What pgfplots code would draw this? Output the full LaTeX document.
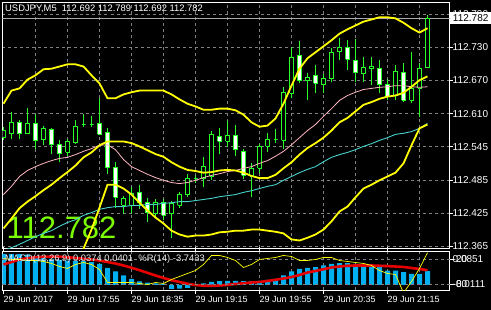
\documentclass[border=0pt]{standalone}
\usepackage{pgfplots}
\usepackage{pgfplotstable}
\pgfplotsset{compat=1.18}
\usepackage{fontspec}
\setmainfont{Liberation Sans}
\definecolor{candlegreen}{RGB}{40,255,40}
\definecolor{byellow}{RGB}{255,255,0}
\definecolor{mpink}{RGB}{255,182,193}
\definecolor{mcyan}{RGB}{72,209,204}
\definecolor{mblue}{RGB}{0,176,240}
\definecolor{sred}{RGB}{230,0,0}
\definecolor{biggreen}{RGB}{124,252,0}
\definecolor{gridc}{RGB}{128,128,128}
\definecolor{pline}{RGB}{170,170,170}

% candle wicks: low and high of each bar
\pgfplotstableread[row sep=\\]{
x y\\
0 112.559\\ 0 112.583\\ 0 nan\\
1 112.561\\ 1 112.610\\ 1 nan\\
2 112.561\\ 2 112.597\\ 2 nan\\
3 112.570\\ 3 112.619\\ 3 nan\\
4 112.544\\ 4 112.608\\ 4 nan\\
5 112.550\\ 5 112.586\\ 5 nan\\
6 112.535\\ 6 112.581\\ 6 nan\\
7 112.519\\ 7 112.559\\ 7 nan\\
8 112.531\\ 8 112.562\\ 8 nan\\
9 112.553\\ 9 112.597\\ 9 nan\\
10 112.583\\ 10 112.608\\ 10 nan\\
11 112.583\\ 11 112.604\\ 11 nan\\
12 112.568\\ 12 112.637\\ 12 nan\\
13 112.498\\ 13 112.581\\ 13 nan\\
14 112.436\\ 14 112.519\\ 14 nan\\
15 112.425\\ 15 112.458\\ 15 nan\\
16 112.424\\ 16 112.473\\ 16 nan\\
17 112.434\\ 17 112.478\\ 17 nan\\
18 112.409\\ 18 112.453\\ 18 nan\\
19 112.418\\ 19 112.451\\ 19 nan\\
20 112.413\\ 20 112.451\\ 20 nan\\
21 112.380\\ 21 112.449\\ 21 nan\\
22 112.436\\ 22 112.464\\ 22 nan\\
23 112.455\\ 23 112.497\\ 23 nan\\
24 112.482\\ 24 112.495\\ 24 nan\\
25 112.473\\ 25 112.528\\ 25 nan\\
26 112.487\\ 26 112.577\\ 26 nan\\
27 112.535\\ 27 112.581\\ 27 nan\\
28 112.546\\ 28 112.594\\ 28 nan\\
29 112.531\\ 29 112.588\\ 29 nan\\
30 112.489\\ 30 112.544\\ 30 nan\\
31 112.455\\ 31 112.517\\ 31 nan\\
32 112.500\\ 32 112.553\\ 32 nan\\
33 112.537\\ 33 112.573\\ 33 nan\\
34 112.555\\ 34 112.579\\ 34 nan\\
35 112.544\\ 35 112.656\\ 35 nan\\
36 112.636\\ 36 112.729\\ 36 nan\\
37 112.663\\ 37 112.740\\ 37 nan\\
38 112.632\\ 38 112.683\\ 38 nan\\
39 112.645\\ 39 112.696\\ 39 nan\\
40 112.645\\ 40 112.681\\ 40 nan\\
41 112.665\\ 41 112.727\\ 41 nan\\
42 112.705\\ 42 112.747\\ 42 nan\\
43 112.687\\ 43 112.742\\ 43 nan\\
44 112.665\\ 44 112.745\\ 44 nan\\
45 112.665\\ 45 112.711\\ 45 nan\\
46 112.661\\ 46 112.711\\ 46 nan\\
47 112.645\\ 47 112.705\\ 47 nan\\
48 112.632\\ 48 112.672\\ 48 nan\\
49 112.632\\ 49 112.696\\ 49 nan\\
50 112.630\\ 50 112.701\\ 50 nan\\
51 112.628\\ 51 112.720\\ 51 nan\\
52 112.601\\ 52 112.701\\ 52 nan\\
53 112.692\\ 53 112.789\\ 53 nan\\
}\wicks

% bull candle bodies (open below close), 5 px wide
\pgfplotstableread[row sep=\\]{
x y\\
-0.25 112.564\\ 0.25 112.564\\ 0.25 112.577\\ -0.25 112.577\\ -0.25 112.564\\ 0 nan\\
0.75 112.572\\ 1.25 112.572\\ 1.25 112.592\\ 0.75 112.592\\ 0.75 112.572\\ 1 nan\\
2.75 112.572\\ 3.25 112.572\\ 3.25 112.590\\ 2.75 112.590\\ 2.75 112.572\\ 3 nan\\
4.75 112.561\\ 5.25 112.561\\ 5.25 112.581\\ 4.75 112.581\\ 4.75 112.561\\ 5 nan\\
7.75 112.537\\ 8.25 112.537\\ 8.25 112.557\\ 7.75 112.557\\ 7.75 112.537\\ 8 nan\\
8.75 112.555\\ 9.25 112.555\\ 9.25 112.584\\ 8.75 112.584\\ 8.75 112.555\\ 9 nan\\
9.75 112.588\\ 10.25 112.588\\ 10.25 112.588\\ 9.75 112.588\\ 9.75 112.588\\ 10 nan\\
10.75 112.588\\ 11.25 112.588\\ 11.25 112.588\\ 10.75 112.588\\ 10.75 112.588\\ 11 nan\\
14.75 112.440\\ 15.25 112.440\\ 15.25 112.453\\ 14.75 112.453\\ 14.75 112.440\\ 15 nan\\
15.75 112.440\\ 16.25 112.440\\ 16.25 112.462\\ 15.75 112.462\\ 15.75 112.440\\ 16 nan\\
18.75 112.425\\ 19.25 112.425\\ 19.25 112.445\\ 18.75 112.445\\ 18.75 112.425\\ 19 nan\\
20.75 112.425\\ 21.25 112.425\\ 21.25 112.444\\ 20.75 112.444\\ 20.75 112.425\\ 21 nan\\
21.75 112.440\\ 22.25 112.440\\ 22.25 112.460\\ 21.75 112.460\\ 21.75 112.440\\ 22 nan\\
22.75 112.460\\ 23.25 112.460\\ 23.25 112.489\\ 22.75 112.489\\ 22.75 112.460\\ 23 nan\\
23.75 112.489\\ 24.25 112.489\\ 24.25 112.489\\ 23.75 112.489\\ 23.75 112.489\\ 24 nan\\
24.75 112.489\\ 25.25 112.489\\ 25.25 112.511\\ 24.75 112.511\\ 24.75 112.489\\ 25 nan\\
25.75 112.493\\ 26.25 112.493\\ 26.25 112.570\\ 25.75 112.570\\ 25.75 112.493\\ 26 nan\\
27.75 112.557\\ 28.25 112.557\\ 28.25 112.568\\ 27.75 112.568\\ 27.75 112.557\\ 28 nan\\
30.75 112.493\\ 31.25 112.493\\ 31.25 112.508\\ 30.75 112.508\\ 30.75 112.493\\ 31 nan\\
31.75 112.508\\ 32.25 112.508\\ 32.25 112.548\\ 31.75 112.548\\ 31.75 112.508\\ 32 nan\\
32.75 112.548\\ 33.25 112.548\\ 33.25 112.561\\ 32.75 112.561\\ 32.75 112.548\\ 33 nan\\
33.75 112.561\\ 34.25 112.561\\ 34.25 112.561\\ 33.75 112.561\\ 33.75 112.561\\ 34 nan\\
34.75 112.559\\ 35.25 112.559\\ 35.25 112.647\\ 34.75 112.647\\ 34.75 112.559\\ 35 nan\\
35.75 112.645\\ 36.25 112.645\\ 36.25 112.711\\ 35.75 112.711\\ 35.75 112.645\\ 36 nan\\
37.75 112.668\\ 38.25 112.668\\ 38.25 112.674\\ 37.75 112.674\\ 37.75 112.668\\ 38 nan\\
39.75 112.661\\ 40.25 112.661\\ 40.25 112.672\\ 39.75 112.672\\ 39.75 112.661\\ 40 nan\\
40.75 112.672\\ 41.25 112.672\\ 41.25 112.720\\ 40.75 112.720\\ 40.75 112.672\\ 41 nan\\
41.75 112.721\\ 42.25 112.721\\ 42.25 112.729\\ 41.75 112.729\\ 41.75 112.721\\ 42 nan\\
44.75 112.681\\ 45.25 112.681\\ 45.25 112.692\\ 44.75 112.692\\ 44.75 112.681\\ 45 nan\\
45.75 112.690\\ 46.25 112.690\\ 46.25 112.694\\ 45.75 112.694\\ 45.75 112.690\\ 46 nan\\
48.75 112.641\\ 49.25 112.641\\ 49.25 112.685\\ 48.75 112.685\\ 48.75 112.641\\ 49 nan\\
50.75 112.632\\ 51.25 112.632\\ 51.25 112.654\\ 50.75 112.654\\ 50.75 112.632\\ 51 nan\\
51.75 112.654\\ 52.25 112.654\\ 52.25 112.690\\ 51.75 112.690\\ 51.75 112.654\\ 52 nan\\
52.75 112.692\\ 53.25 112.692\\ 53.25 112.782\\ 52.75 112.782\\ 52.75 112.692\\ 53 nan\\
}\bullbodies

% bear candle bodies (close below open)
\pgfplotstableread[row sep=\\]{
x y\\
1.75 112.572\\ 2.25 112.572\\ 2.25 112.592\\ 1.75 112.592\\ 1.75 112.572\\ 2 nan\\
3.75 112.559\\ 4.25 112.559\\ 4.25 112.590\\ 3.75 112.590\\ 3.75 112.559\\ 4 nan\\
5.75 112.551\\ 6.25 112.551\\ 6.25 112.579\\ 5.75 112.579\\ 5.75 112.551\\ 6 nan\\
6.75 112.535\\ 7.25 112.535\\ 7.25 112.551\\ 6.75 112.551\\ 6.75 112.535\\ 7 nan\\
11.75 112.570\\ 12.25 112.570\\ 12.25 112.590\\ 11.75 112.590\\ 11.75 112.570\\ 12 nan\\
12.75 112.509\\ 13.25 112.509\\ 13.25 112.573\\ 12.75 112.573\\ 12.75 112.509\\ 13 nan\\
13.75 112.455\\ 14.25 112.455\\ 14.25 112.509\\ 13.75 112.509\\ 13.75 112.455\\ 14 nan\\
16.75 112.445\\ 17.25 112.445\\ 17.25 112.464\\ 16.75 112.464\\ 16.75 112.445\\ 17 nan\\
17.75 112.427\\ 18.25 112.427\\ 18.25 112.445\\ 17.75 112.445\\ 17.75 112.427\\ 18 nan\\
19.75 112.422\\ 20.25 112.422\\ 20.25 112.445\\ 19.75 112.445\\ 19.75 112.422\\ 20 nan\\
26.75 112.557\\ 27.25 112.557\\ 27.25 112.566\\ 26.75 112.566\\ 26.75 112.557\\ 27 nan\\
28.75 112.542\\ 29.25 112.542\\ 29.25 112.568\\ 28.75 112.568\\ 28.75 112.542\\ 29 nan\\
29.75 112.495\\ 30.25 112.495\\ 30.25 112.539\\ 29.75 112.539\\ 29.75 112.495\\ 30 nan\\
36.75 112.668\\ 37.25 112.668\\ 37.25 112.714\\ 36.75 112.714\\ 36.75 112.668\\ 37 nan\\
38.75 112.663\\ 39.25 112.663\\ 39.25 112.678\\ 38.75 112.678\\ 38.75 112.663\\ 39 nan\\
42.75 112.707\\ 43.25 112.707\\ 43.25 112.729\\ 42.75 112.729\\ 42.75 112.707\\ 43 nan\\
43.75 112.683\\ 44.25 112.683\\ 44.25 112.705\\ 43.75 112.705\\ 43.75 112.683\\ 44 nan\\
46.75 112.661\\ 47.25 112.661\\ 47.25 112.690\\ 46.75 112.690\\ 46.75 112.661\\ 47 nan\\
47.75 112.639\\ 48.25 112.639\\ 48.25 112.661\\ 47.75 112.661\\ 47.75 112.639\\ 48 nan\\
49.75 112.632\\ 50.25 112.632\\ 50.25 112.683\\ 49.75 112.683\\ 49.75 112.632\\ 50 nan\\
}\bearbodies

\pgfplotstableread{
k u m l p cy
0 112.626 112.398 112.169 112.460 112.358
1 112.650 112.416 112.182 112.475 112.363
2 112.654 112.435 112.215 112.493 112.369
3 112.670 112.447 112.224 112.504 112.376
4 112.678 112.457 112.235 112.511 112.383
5 112.689 112.468 112.246 112.517 112.389
6 112.690 112.478 112.266 112.522 112.394
7 112.694 112.490 112.285 112.526 112.402
8 112.698 112.501 112.303 112.528 112.409
9 112.698 112.513 112.328 112.533 112.414
10 112.694 112.528 112.361 112.539 112.422
11 112.678 112.537 112.396 112.544 112.427
12 112.663 112.550 112.436 112.550 112.433
13 112.636 112.557 112.478 112.551 112.436
14 112.636 112.557 112.478 112.542 112.438
15 112.643 112.557 112.471 112.524 112.438
16 112.647 112.554 112.460 112.511 112.440
17 112.650 112.548 112.445 112.504 112.440
18 112.650 112.541 112.431 112.497 112.442
19 112.650 112.534 112.418 112.491 112.442
20 112.650 112.529 112.407 112.486 112.444
21 112.643 112.519 112.394 112.482 112.445
22 112.634 112.511 112.387 112.480 112.447
23 112.626 112.505 112.383 112.482 112.447
24 112.621 112.503 112.385 112.486 112.449
25 112.615 112.500 112.385 112.491 112.451
26 112.615 112.501 112.387 112.495 112.453
27 112.617 112.504 112.391 112.498 112.456
28 112.617 112.505 112.392 112.502 112.458
29 112.614 112.504 112.394 112.504 112.460
30 112.606 112.500 112.394 112.508 112.464
31 112.592 112.494 112.396 112.511 112.467
32 112.584 112.490 112.396 112.517 112.471
33 112.586 112.490 112.394 112.522 112.475
34 112.599 112.496 112.392 112.530 112.478
35 112.626 112.508 112.389 112.539 112.486
36 112.659 112.519 112.378 112.551 112.493
37 112.690 112.533 112.376 112.564 112.500
38 112.709 112.545 112.381 112.577 112.506
39 112.720 112.554 112.387 112.588 112.511
40 112.731 112.564 112.396 112.603 112.520
41 112.742 112.577 112.411 112.617 112.528
42 112.754 112.592 112.429 112.632 112.533
43 112.762 112.600 112.438 112.641 112.537
44 112.769 112.612 112.455 112.647 112.542
45 112.776 112.624 112.471 112.652 112.548
46 112.780 112.629 112.478 112.654 112.553
47 112.784 112.635 112.486 112.656 112.559
48 112.784 112.639 112.493 112.657 112.564
49 112.782 112.641 112.500 112.659 112.570
50 112.774 112.646 112.517 112.659 112.572
51 112.764 112.657 112.550 112.657 112.575
52 112.756 112.669 112.581 112.656 112.581
53 112.764 112.676 112.588 112.657 112.590
}\bands

\pgfplotstableread{
k macd sig wr
0 0.0851 0.0558 -17.5
1 0.0846 0.0627 -19.9
2 0.0842 0.0696 -19.9
3 0.0830 0.0732 -22.3
4 0.0759 0.0759 -22.3
5 0.0745 0.0770 -24.7
6 0.0715 0.0778 -29.5
7 0.0682 0.0773 -36.7
8 0.0668 0.0759 -41.5
9 0.0649 0.0737 -31.9
10 0.0649 0.0715 -27.1
11 0.0622 0.0696 -31.9
12 0.0572 0.0668 -43.9
13 0.0462 0.0627 -75.1
14 0.0366 0.0586 -75.1
15 0.0256 0.0531 -75.1
16 0.0160 0.0470 -75.1
17 0.0091 0.0402 -77.5
18 0.0063 0.0330 -79.9
19 0.0036 0.0256 -75.1
20 0.0022 0.0187 -77.5
21 -0.0110 0.0127 -67.9
22 -0.0108 0.0077 -60.7
23 -0.0088 0.0030 -53.5
24 -0.0033 -0.0006 -46.3
25 0.0036 -0.0025 -31.9
26 0.0077 -0.0028 -10.3
27 0.0099 -0.0019 -10.3
28 0.0105 0.0000 -15.1
29 0.0110 0.0022 -22.3
30 0.0099 0.0041 -39.1
31 0.0099 0.0063 -31.9
32 0.0110 0.0077 -19.9
33 0.0132 0.0105 -17.5
34 0.0165 0.0138 -15.1
35 0.0256 0.0173 -10.3
36 0.0366 0.0215 -12.7
37 0.0440 0.0270 -22.3
38 0.0468 0.0338 -22.3
39 0.0484 0.0380 -19.9
40 0.0531 0.0429 -15.1
41 0.0578 0.0476 -15.1
42 0.0594 0.0503 -22.3
43 0.0594 0.0523 -24.7
44 0.0578 0.0531 -27.1
45 0.0531 0.0531 -29.5
46 0.0531 0.0531 -34.3
47 0.0484 0.0523 -46.3
48 0.0393 0.0514 -53.5
49 0.0393 0.0503 -55.9
50 0.0347 0.0490 -100
51 0.0303 0.0462 -72.7
52 0.0303 0.0435 -41.5
53 0.0374 0.0401 -3.7
}\sub

\begin{document}
\begin{tikzpicture}
\fill[black] (0pt,0pt) rectangle (491pt,310pt);

% ---------------- main price window ----------------
\begin{axis}[
  at={(2.5pt,61.5pt)}, anchor=south west, scale only axis,
  width=447pt, height=246pt,
  xmin=-0.125, xmax=55.75, ymin=112.3614, ymax=112.8110,
  axis line style={white, line width=0.9pt},
  xtick={4,8,...,52}, xticklabels={}, xtick style={draw=none},
  ytick={112.790,112.7293,112.6686,112.6079,112.5471,112.4864,112.4257,112.365},
  yticklabels={112.790,112.730,112.670,112.610,112.545,112.485,112.425,112.365},
  ytick pos=right, yticklabel pos=right,
  ytick style={white, line width=0.9pt},
  tick align=outside, major tick length=3pt,
  yticklabel style={text=white, anchor=west, inner sep=0pt, xshift=0pt,
    font=\fontsize{10}{10}\selectfont},
  xmajorgrids, ymajorgrids,
  grid style={gridc, dash pattern=on 3pt off 3pt, line width=0.9pt},
  unbounded coords=jump,
  /pgf/number format/assume math mode=true,
]
% current price line
\addplot[pline, line width=0.8pt, forget plot] coordinates {(-0.125,112.782) (55.75,112.782)};

% candles
\addplot[candlegreen, line width=1.1pt, forget plot] table[x=x, y=y] {\wicks};
\addplot[draw=candlegreen, fill=black, line width=1.1pt, forget plot] table[x=x, y=y] {\bullbodies};
\addplot[draw=candlegreen, fill=white, line width=1.1pt, forget plot] table[x=x, y=y] {\bearbodies};

\node[anchor=base west, inner sep=0pt, text=biggreen,
      font=\fontsize{31}{31}\selectfont] at (rel axis cs:0.009,0.0407) {112.782};

% indicator lines
\addplot[mpink, line width=0.8pt] table[x=k, y=p] {\bands};
\addplot[mcyan, line width=0.9pt] table[x=k, y=cy] {\bands};
\addplot[byellow, line width=1.8pt] table[x=k, y=u] {\bands};
\addplot[byellow, line width=1.8pt] table[x=k, y=m] {\bands};
\addplot[byellow, line width=1.8pt] table[x=k, y=l] {\bands};
\end{axis}

% ---------------- sub window: MACD ----------------
\begin{axis}[
  at={(2.5pt,19.5pt)}, anchor=south west, scale only axis,
  width=447pt, height=39pt,
  xmin=-0.125, xmax=55.75, ymin=-0.015675, ymax=0.091575,
  axis line style={white, line width=0.9pt},
  ytick=\empty,
  xtick={4,8,...,52}, xticklabels={}, xtick style={draw=none},
  xmajorgrids,
  grid style={gridc, dash pattern=on 3pt off 3pt, line width=0.9pt},
  extra x ticks={0,8,...,48},
  extra x tick labels={29 Jun 2017,29 Jun 17:55,29 Jun 18:35,29 Jun 19:15,29 Jun 19:55,29 Jun 20:35,29 Jun 21:15},
  extra x tick style={grid=none, tick align=outside, major tick length=4pt,
    xtick style={draw=white, line width=0.9pt}},
  xticklabel style={text=white, anchor=north west, inner sep=0pt, yshift=-2pt,
    font=\fontsize{9}{9}\selectfont},
  /pgf/number format/assume math mode=true,
]
\addplot[ybar, bar width=5pt, fill=mblue, draw=none] table[x=k, y=macd] {\sub};
\addplot[sred, line width=2.6pt] table[x=k, y=sig] {\sub};
\end{axis}

% ---------------- sub window: %R ----------------
\begin{axis}[
  at={(2.5pt,19.5pt)}, anchor=south west, scale only axis,
  width=447pt, height=39pt,
  xmin=-0.125, xmax=55.75, ymin=-94.32, ymax=-0.72,
  axis line style={draw=none},
  xtick=\empty,
  ytick={-80,-20},
  yticklabels={\makebox[0pt][l]{-80}-0.0111,\makebox[0pt][l]{-20}0.0851},
  ytick pos=right, yticklabel pos=right,
  ytick style={white, line width=0.9pt},
  tick align=outside, major tick length=3pt,
  yticklabel style={text=white, anchor=west, inner sep=0pt,
    font=\fontsize{10}{10}\selectfont},
  ymajorgrids,
  grid style={gridc, dash pattern=on 3pt off 3pt, line width=0.9pt},
  /pgf/number format/assume math mode=true,
]
\addplot[byellow, line width=0.7pt] table[x=k, y=wr] {\sub};
\end{axis}

% texts
\node[anchor=west, inner sep=0pt, text=white, font=\fontsize{9.4}{9.4}\selectfont]
  at (5pt,301pt) {USDJPY,M5\ \ 112.692 112.789 112.692 112.782};
\node[anchor=west, inner sep=0pt, text=white!85!gray, font=\fontsize{9.4}{9.4}\selectfont]
  at (5pt,51pt) {MACD(12,26,9) 0.0374 0.0401\ \ \%R(14) -3.7433};
\node[anchor=west, fill=white, text=black, inner sep=0pt, minimum height=12pt,
      minimum width=41pt, font=\fontsize{10}{10}\selectfont] at (450pt,292pt) {112.782};

\pgfresetboundingbox
\useasboundingbox (0pt,0pt) rectangle (491pt,310pt);
\end{tikzpicture}
\end{document}
